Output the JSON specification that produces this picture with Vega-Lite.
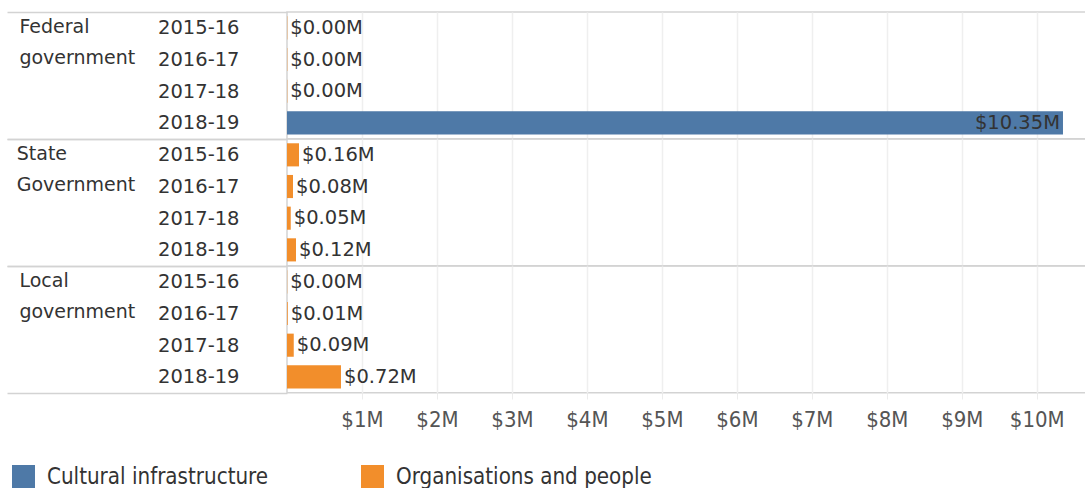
{
  "$schema": "https://vega.github.io/schema/vega-lite/v6.json",
  "background": "white",
  "padding": {"left": 6, "top": 2, "right": 0, "bottom": 0},
  "bounds": "flush",
  "data": {"values": [
    {"gov": "Federal government", "year": "2015-16", "category": "Organisations and people", "value": 0.004},
    {"gov": "Federal government", "year": "2016-17", "category": "Organisations and people", "value": 0.004},
    {"gov": "Federal government", "year": "2017-18", "category": "Organisations and people", "value": 0.004},
    {"gov": "Federal government", "year": "2018-19", "category": "Cultural infrastructure", "value": 10.35},
    {"gov": "State Government", "year": "2015-16", "category": "Organisations and people", "value": 0.16},
    {"gov": "State Government", "year": "2016-17", "category": "Organisations and people", "value": 0.08},
    {"gov": "State Government", "year": "2017-18", "category": "Organisations and people", "value": 0.05},
    {"gov": "State Government", "year": "2018-19", "category": "Organisations and people", "value": 0.12},
    {"gov": "Local government", "year": "2015-16", "category": "Organisations and people", "value": 0.003},
    {"gov": "Local government", "year": "2016-17", "category": "Organisations and people", "value": 0.01},
    {"gov": "Local government", "year": "2017-18", "category": "Organisations and people", "value": 0.09},
    {"gov": "Local government", "year": "2018-19", "category": "Organisations and people", "value": 0.72}
  ]},
  "transform": [{"calculate": "'$' + format(datum.value, '.2f') + 'M'", "as": "label"}],
  "facet": {
    "row": {
      "field": "gov", "type": "nominal",
      "sort": ["Federal government", "State Government", "Local government"],
      "header": {
        "title": null, "labelAngle": 0, "labelAlign": "left", "labelAnchor": "end",
        "labelBaseline": "line-top", "labelOrient": "left", "labelPadding": -129,
        "labelFont": "DejaVu Sans", "labelFontSize": 19, "labelColor": "#333333",
        "labelExpr": "split(datum.value, ' ')", "labelLineHeight": 31
      }
    }
  },
  "spacing": 0,
  "spec": {
    "width": 799,
    "height": 126.7,
    "encoding": {
      "y": {
        "field": "year", "type": "nominal", "title": null,
        "scale": {"paddingInner": 0, "paddingOuter": 0},
        "axis": {
          "domain": false, "grid": false,
          "tickBand": "extent", "tickSize": 280, "tickWidth": 1.5,
          "tickColor": {"condition": {"test": "datum.value === '2018-19' || datum.extra", "value": "#d3d3d3"}, "value": "transparent"},
          "labelPadding": -232, "labelFont": "DejaVu Sans", "labelFontSize": 19.5, "labelColor": "#333333"
        }
      }
    },
    "layer": [
      {
        "mark": {"type": "bar", "height": {"band": 0.73}},
        "encoding": {
          "x": {
            "field": "value", "type": "quantitative", "title": null,
            "scale": {"domain": [0, 10.657], "nice": false, "zero": true},
            "axis": {
              "values": [1, 2, 3, 4, 5, 6, 7, 8, 9, 10],
              "labelExpr": "'$' + datum.value + 'M'",
              "domain": false, "grid": true, "gridColor": "#efefef", "gridWidth": 1.5,
              "ticks": true, "tickColor": "#ececec", "tickSize": 6,
              "labelFont": "DejaVu Sans Condensed, Liberation Sans Narrow, Roboto",
              "labelFontSize": 22, "labelColor": "#555555", "labelPadding": 10
            }
          },
          "color": {
            "field": "category", "type": "nominal",
            "scale": {"domain": ["Cultural infrastructure", "Organisations and people"], "range": ["#4e79a7", "#f28e2b"]},
            "legend": {
              "title": null, "orient": "none", "legendX": -275, "legendY": 453,
              "direction": "horizontal", "symbolType": "square", "symbolSize": 529,
              "symbolStrokeWidth": 0, "symbolOpacity": 1,
              "labelFont": "DejaVu Sans Condensed, Liberation Sans Narrow, Roboto",
              "labelFontSize": 22.2, "labelColor": "#333333", "labelOffset": 12,
              "columnPadding": 92, "labelLimit": 400
            }
          }
        }
      },
      {
        "mark": {
          "type": "text", "baseline": "middle",
          "align": {"expr": "datum.value > 9 ? 'right' : 'left'"},
          "dx": {"expr": "datum.value > 9 ? -3 : 3"},
          "font": "DejaVu Sans", "fontSize": 19.5, "color": "#333333"
        },
        "encoding": {
          "x": {"field": "value", "type": "quantitative"},
          "text": {"field": "label", "type": "nominal"}
        }
      }
    ]
  },
  "config": {
    "view": {"stroke": "#d3d3d3", "strokeWidth": 1.5}
  }
}
